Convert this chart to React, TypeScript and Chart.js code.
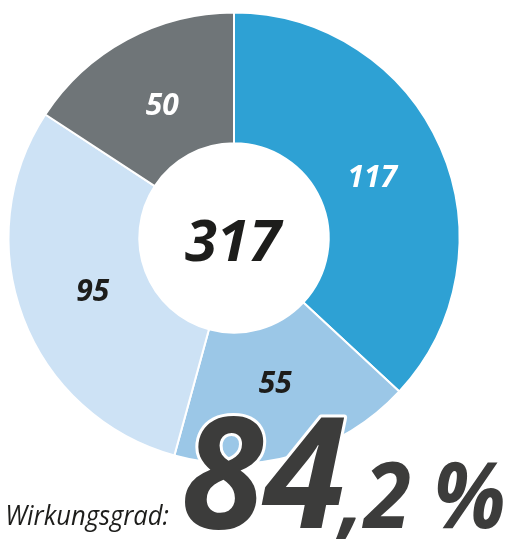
import React, { useEffect, useRef } from "react";
import { Chart, registerables } from "chart.js";

Chart.register(...registerables);

const categories = ["A", "B", "C", "D"];
const values = [117, 55, 95, 50];
const segmentColors = ["#2ea1d4", "#9bc7e7", "#cde2f5", "#6f7578"];
const labelColors = ["#ffffff", "#1d1d1b", "#1d1d1b", "#ffffff"];
const efficiencyLabel = "Wirkungsgrad:";
const efficiency = 84.2;

const FONT = "'Open Sans', 'DejaVu Sans', sans-serif";

function drawFit(
  ctx: CanvasRenderingContext2D,
  text: string,
  font: string,
  left: number,
  right: number,
  baseline: number,
  fill: string,
  stroke: number
) {
  ctx.save();
  ctx.font = font;
  ctx.textAlign = "left";
  ctx.textBaseline = "alphabetic";
  const m = ctx.measureText(text);
  const visW = m.actualBoundingBoxLeft + m.actualBoundingBoxRight;
  const sx = (right - left) / visW;
  ctx.translate(left, baseline);
  ctx.scale(sx, 1);
  const x0 = m.actualBoundingBoxLeft;
  if (stroke > 0) {
    ctx.lineJoin = "round";
    ctx.strokeStyle = "#ffffff";
    ctx.lineWidth = stroke / sx;
    ctx.strokeText(text, x0, 0);
  }
  ctx.fillStyle = fill;
  ctx.fillText(text, x0, 0);
  ctx.restore();
}

export default function App() {
  const ref = useRef<HTMLCanvasElement | null>(null);

  useEffect(() => {
    if (!ref.current) return;
    const total = values.reduce((a, b) => a + b, 0);

    const textPlugin = {
      id: "texts",
      afterDraw(chart: any) {
        const ctx = chart.ctx as CanvasRenderingContext2D;
        const meta = chart.getDatasetMeta(0);
        ctx.save();
        ctx.textAlign = "center";
        ctx.textBaseline = "middle";
        ctx.font = `italic 700 30px ${FONT}`;
        meta.data.forEach((arc: any, i: number) => {
          const p = arc.getProps(["x", "y", "startAngle", "endAngle", "innerRadius", "outerRadius"], true);
          const mid = (p.startAngle + p.endAngle) / 2;
          const r = p.innerRadius + (p.outerRadius - p.innerRadius) * 0.43;
          ctx.fillStyle = labelColors[i];
          ctx.fillText(String(values[i]), p.x + Math.cos(mid) * r, p.y + Math.sin(mid) * r + 1);
        });
        const c = meta.data[0];
        ctx.fillStyle = "#1d1d1b";
        ctx.font = `italic 700 58px ${FONT}`;
        ctx.fillText(String(total), c.x - 1, c.y + 6);
        ctx.restore();

        drawFit(ctx, efficiencyLabel, `italic 400 28px ${FONT}`, 8, 169, 525, "#1d1d1b", 0);

        const parts = efficiency.toFixed(1).split(".");
        const main = parts[0];
        const rest = "," + parts[1] + " %";
        drawFit(ctx, main, `italic 700 154px ${FONT}`, 185, 345, 528, "#3c3c3b", 6);
        drawFit(ctx, rest, `italic 700 91px ${FONT}`, 335, 503, 528, "#3c3c3b", 6);
      },
    };

    const chart = new Chart(ref.current, {
      type: "doughnut",
      data: {
        labels: categories,
        datasets: [
          {
            data: values,
            backgroundColor: segmentColors,
            borderColor: "#ffffff",
            borderWidth: 2,
            hoverOffset: 0,
          },
        ],
      },
      options: {
        animation: false,
        responsive: false,
        maintainAspectRatio: false,
        cutout: "42%",
        layout: { padding: { left: 7.5, right: 45.5, top: 11.5, bottom: 74.5 } },
        plugins: {
          legend: { display: false },
          tooltip: { enabled: false },
        },
      },
      plugins: [textPlugin],
    });
    return () => chart.destroy();
  }, []);

  return (
    <div style={{ position: "fixed", left: 0, top: 0, width: 506, height: 539, background: "#fff" }}>
      <canvas ref={ref} width={506} height={539} style={{ width: 506, height: 539, display: "block" }} />
    </div>
  );
}
